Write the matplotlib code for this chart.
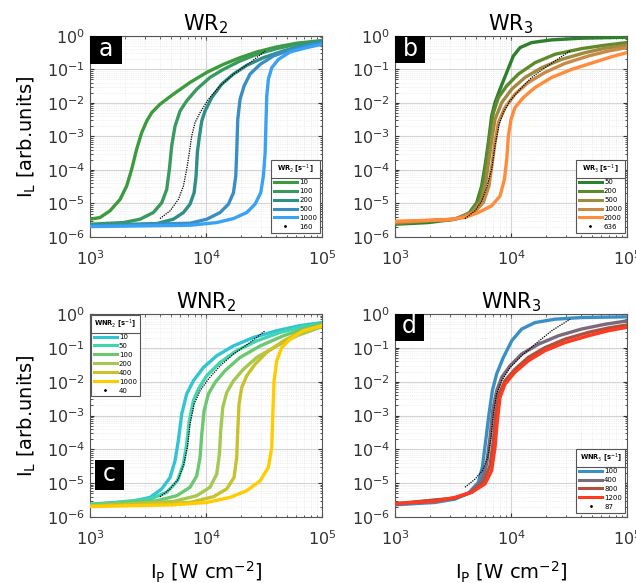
import matplotlib

matplotlib.use("Agg")
import matplotlib.pyplot as plt
from matplotlib.lines import Line2D
from matplotlib.patches import Rectangle
import numpy as np

# All curves stored as (log10 I_P, log10 I_L).

# ---- panel a : WR2 ----
a_labels = ["10", "100", "200", "500", "1000"]
a_colors = ["#3c9b3c", "#3a9a5e", "#2e8f86", "#3a8fc2", "#3aa2f5"]
a_x = [
    [3.00, 3.086, 3.172, 3.259, 3.316, 3.359, 3.402, 3.445, 3.489, 3.532, 3.603, 3.718, 3.862, 4.006, 4.149, 4.293, 4.437, 4.609, 4.782, 5.00],
    [3.00, 3.287, 3.431, 3.546, 3.618, 3.661, 3.684, 3.704, 3.733, 3.776, 3.833, 3.920, 4.034, 4.149, 4.293, 4.437, 4.609, 4.782, 5.00],
    [3.00, 3.575, 3.718, 3.805, 3.862, 3.897, 3.914, 3.925, 3.943, 3.963, 3.991, 4.049, 4.135, 4.236, 4.351, 4.494, 4.667, 4.839, 5.00],
    [3.00, 3.862, 4.006, 4.121, 4.193, 4.236, 4.256, 4.264, 4.273, 4.293, 4.328, 4.379, 4.466, 4.580, 4.724, 4.868, 5.00],
    [3.00, 3.862, 4.092, 4.236, 4.351, 4.422, 4.471, 4.494, 4.509, 4.517, 4.523, 4.537, 4.566, 4.624, 4.724, 4.868, 5.00],
]
a_y = [
    [-5.47, -5.42, -5.22, -4.88, -4.48, -3.98, -3.38, -2.89, -2.54, -2.29, -2.04, -1.74, -1.39, -1.09, -0.85, -0.65, -0.48, -0.33, -0.22, -0.14],
    [-5.62, -5.57, -5.47, -5.27, -4.98, -4.58, -3.98, -3.28, -2.69, -2.24, -1.94, -1.59, -1.24, -1.00, -0.75, -0.55, -0.38, -0.25, -0.15],
    [-5.65, -5.60, -5.47, -5.27, -5.02, -4.68, -4.18, -3.48, -2.99, -2.54, -2.24, -1.84, -1.44, -1.14, -0.88, -0.65, -0.45, -0.28, -0.17],
    [-5.67, -5.59, -5.47, -5.27, -5.02, -4.68, -4.18, -3.48, -2.49, -1.89, -1.49, -1.14, -0.85, -0.60, -0.42, -0.28, -0.20],
    [-5.69, -5.65, -5.57, -5.45, -5.27, -5.02, -4.68, -4.18, -3.48, -2.49, -1.79, -1.29, -0.95, -0.70, -0.48, -0.35, -0.25],
]
a_fit_label = "160"
a_fit_x = [3.603, 3.690, 3.761, 3.805, 3.833, 3.856, 3.876, 3.905, 3.948, 4.020, 4.121, 4.236, 4.379, 4.509]
a_fit_y = [-5.45, -5.22, -4.88, -4.48, -3.98, -3.48, -2.99, -2.59, -2.29, -1.89, -1.49, -1.14, -0.80, -0.45]

# ---- panel b : WR3 ----
b_labels = ["50", "200", "500", "1000", "2000"]
b_colors = ["#2e7f2e", "#5e8a2c", "#a08a40", "#c98a45", "#ff8c3a"]
b_x = [
    [3.00, 3.287, 3.517, 3.632, 3.704, 3.747, 3.776, 3.805, 3.833, 3.862, 3.905, 3.963, 4.020, 4.078, 4.178, 4.351, 4.609, 5.00],
    [3.00, 3.517, 3.647, 3.718, 3.761, 3.790, 3.819, 3.848, 3.891, 3.963, 4.063, 4.207, 4.379, 4.609, 4.810, 5.00],
    [3.00, 3.517, 3.661, 3.741, 3.782, 3.810, 3.839, 3.862, 3.920, 4.006, 4.121, 4.264, 4.437, 4.638, 4.810, 5.00],
    [3.00, 3.517, 3.675, 3.761, 3.810, 3.839, 3.862, 3.891, 3.948, 4.034, 4.149, 4.293, 4.466, 4.667, 4.839, 5.00],
    [3.00, 3.431, 3.603, 3.718, 3.833, 3.905, 3.943, 3.963, 3.977, 4.000, 4.034, 4.106, 4.207, 4.351, 4.523, 4.724, 4.868, 5.00],
]
b_y = [
    [-5.62, -5.57, -5.47, -5.32, -4.98, -4.48, -3.88, -3.18, -2.39, -1.99, -1.59, -1.09, -0.60, -0.35, -0.20, -0.12, -0.07, -0.04],
    [-5.60, -5.47, -5.27, -4.93, -4.38, -3.68, -2.89, -2.29, -1.84, -1.49, -1.14, -0.80, -0.55, -0.38, -0.28, -0.20],
    [-5.57, -5.47, -5.27, -4.93, -4.38, -3.68, -2.99, -2.49, -1.99, -1.59, -1.24, -0.95, -0.70, -0.50, -0.37, -0.28],
    [-5.55, -5.47, -5.29, -4.98, -4.48, -3.78, -3.18, -2.59, -2.14, -1.74, -1.39, -1.09, -0.82, -0.60, -0.45, -0.35],
    [-5.53, -5.49, -5.42, -5.27, -5.07, -4.78, -4.28, -3.68, -2.99, -2.49, -2.14, -1.84, -1.54, -1.24, -1.00, -0.78, -0.62, -0.50],
]
b_fit_label = "636"
b_fit_x = [3.603, 3.690, 3.747, 3.790, 3.833, 3.862, 3.897, 3.934, 3.991, 4.078, 4.178, 4.293, 4.408, 4.509]
b_fit_y = [-5.45, -5.22, -4.93, -4.53, -3.98, -3.28, -2.64, -2.29, -1.94, -1.59, -1.24, -0.95, -0.68, -0.45]

# ---- panel c : WNR2 ----
c_labels = ["10", "50", "100", "200", "400", "1000"]
c_colors = ["#30c4d4", "#40d4b0", "#6cc870", "#a4c850", "#c8c22a", "#ffcc00"]
c_x = [
    [3.00, 3.345, 3.517, 3.618, 3.690, 3.733, 3.761, 3.790, 3.833, 3.891, 3.977, 4.092, 4.236, 4.408, 4.609, 4.810, 5.00],
    [3.00, 3.517, 3.661, 3.753, 3.805, 3.833, 3.856, 3.891, 3.934, 4.006, 4.121, 4.264, 4.437, 4.638, 4.839, 5.00],
    [3.00, 3.575, 3.747, 3.862, 3.920, 3.948, 3.963, 3.983, 4.020, 4.078, 4.164, 4.293, 4.466, 4.667, 4.839, 5.00],
    [3.00, 3.718, 3.920, 4.034, 4.092, 4.115, 4.126, 4.144, 4.178, 4.236, 4.322, 4.437, 4.609, 4.782, 5.00],
    [3.00, 3.862, 4.063, 4.178, 4.241, 4.264, 4.273, 4.284, 4.307, 4.351, 4.422, 4.523, 4.667, 4.810, 5.00],
    [3.00, 3.718, 4.006, 4.207, 4.351, 4.466, 4.537, 4.566, 4.575, 4.586, 4.609, 4.652, 4.724, 4.839, 5.00],
]
c_y = [
    [-5.62, -5.55, -5.42, -5.17, -4.83, -4.33, -3.74, -2.96, -2.36, -1.97, -1.58, -1.23, -0.94, -0.69, -0.49, -0.34, -0.25],
    [-5.64, -5.47, -5.27, -4.93, -4.43, -3.84, -3.15, -2.56, -2.22, -1.82, -1.43, -1.08, -0.79, -0.54, -0.37, -0.28],
    [-5.65, -5.52, -5.37, -5.12, -4.78, -4.24, -3.55, -2.86, -2.36, -2.02, -1.67, -1.28, -0.94, -0.64, -0.44, -0.30],
    [-5.67, -5.54, -5.37, -5.12, -4.73, -4.14, -3.45, -2.76, -2.32, -1.97, -1.63, -1.28, -0.94, -0.64, -0.37],
    [-5.68, -5.57, -5.40, -5.17, -4.83, -4.24, -3.45, -2.66, -2.17, -1.82, -1.48, -1.13, -0.79, -0.54, -0.34],
    [-5.69, -5.64, -5.57, -5.42, -5.22, -4.93, -4.53, -3.94, -2.96, -1.97, -1.38, -0.99, -0.74, -0.49, -0.34],
]
c_fit_label = "40"
c_fit_x = [3.603, 3.690, 3.761, 3.805, 3.839, 3.862, 3.897, 3.948, 4.020, 4.121, 4.236, 4.379, 4.509]
c_fit_y = [-5.40, -5.17, -4.88, -4.48, -3.94, -3.25, -2.66, -2.27, -1.92, -1.53, -1.18, -0.84, -0.49]

# ---- panel d : WNR3 ----
d_labels = ["100", "400", "800", "1200"]
d_colors = ["#3a90c4", "#7a6a7a", "#b0503e", "#ff3a1e"]
d_x = [
    [3.00, 3.345, 3.517, 3.632, 3.718, 3.753, 3.782, 3.810, 3.839, 3.876, 3.934, 4.006, 4.092, 4.207, 4.379, 4.609, 5.00],
    [3.00, 3.517, 3.647, 3.747, 3.790, 3.819, 3.842, 3.876, 3.920, 3.991, 4.092, 4.236, 4.408, 4.609, 4.810, 5.00],
    [3.00, 3.517, 3.661, 3.761, 3.819, 3.848, 3.868, 3.897, 3.948, 4.034, 4.149, 4.293, 4.466, 4.667, 4.839, 5.00],
    [3.00, 3.345, 3.517, 3.661, 3.776, 3.833, 3.862, 3.882, 3.905, 3.948, 4.034, 4.149, 4.293, 4.466, 4.667, 4.839, 5.00],
]
d_y = [
    [-5.64, -5.57, -5.47, -5.30, -4.98, -4.53, -3.74, -2.96, -2.27, -1.77, -1.28, -0.79, -0.44, -0.25, -0.15, -0.10, -0.08],
    [-5.62, -5.45, -5.27, -4.93, -4.43, -3.65, -2.86, -2.27, -1.87, -1.53, -1.18, -0.89, -0.64, -0.44, -0.30, -0.20],
    [-5.61, -5.44, -5.27, -4.98, -4.48, -3.74, -2.96, -2.36, -1.97, -1.63, -1.28, -0.99, -0.74, -0.54, -0.41, -0.32],
    [-5.60, -5.54, -5.42, -5.27, -5.02, -4.63, -3.94, -3.15, -2.46, -2.07, -1.72, -1.38, -1.08, -0.84, -0.64, -0.49, -0.39],
]
d_fit_label = "87"
d_fit_x = [3.603, 3.690, 3.753, 3.799, 3.828, 3.848, 3.876, 3.920, 3.991, 4.092, 4.207, 4.351, 4.509]
d_fit_y = [-5.12, -4.88, -4.63, -4.24, -3.65, -2.96, -2.36, -1.97, -1.58, -1.23, -0.89, -0.49, -0.15]


def draw_panel(ax, title, tag, tag_box, xs, ys, labels, colors,
               fit_x, fit_y, fit_label, leg_title, leg_loc, leg_anchor):
    for lx, ly, c in zip(xs, ys, colors):
        ax.plot(10 ** np.array(lx), 10 ** np.array(ly), color=c, lw=2.4,
                solid_capstyle="round", solid_joinstyle="round", zorder=3)
    ax.plot(10 ** np.array(fit_x), 10 ** np.array(fit_y), color="black",
            lw=0.9, ls=(0, (1, 0.9)), zorder=4)
    ax.set_xscale("log")
    ax.set_yscale("log")
    ax.set_xlim(1e3, 1e5)
    ax.set_ylim(1e-6, 1e0)
    ax.set_yticks([10.0 ** k for k in range(-6, 1)])
    ax.set_xticks([1e3, 1e4, 1e5])
    ax.grid(True, which="major", color="#d4d4d4", lw=0.8)
    ax.grid(True, which="minor", color="#e2e2e2", lw=0.5, ls=":")
    ax.tick_params(which="both", direction="in", top=True, right=True,
                   labelsize=11.5, colors="#333333")
    ax.tick_params(axis="x", which="major", pad=9)
    ax.tick_params(which="major", length=3)
    ax.tick_params(which="minor", length=1.8)
    for sp in ax.spines.values():
        sp.set_color("#555555")
        sp.set_linewidth(0.8)
    ax.set_title(title, fontsize=15, pad=4)

    # black tag box with a white letter
    x0, y0, w, h = tag_box
    ax.add_patch(Rectangle((x0, y0), w, h, transform=ax.transAxes,
                           facecolor="black", edgecolor="none", zorder=6,
                           clip_on=False))
    ax.text(x0 + w / 2, y0 + h / 2 + 0.005, tag, transform=ax.transAxes,
            color="white", fontsize=17, ha="center", va="center", zorder=7)

    handles = [Line2D([], [], color=c, lw=2.2) for c in colors]
    handles.append(Line2D([], [], ls="none", marker=".", ms=2, color="black"))
    leg = ax.legend(handles, labels + [fit_label], title=leg_title,
                    loc=leg_loc, bbox_to_anchor=leg_anchor, fontsize=5,
                    title_fontproperties={"size": 4.8, "weight": "bold"},
                    handlelength=3.3, handletextpad=0.3, labelspacing=0.42,
                    borderpad=0.4, borderaxespad=0.0, fancybox=False,
                    framealpha=1, edgecolor="#555555")
    leg.get_frame().set_linewidth(0.8)
    leg.set_zorder(8)
    return leg


fig = plt.figure(figsize=(6.36, 5.83), dpi=100)
ax_a = fig.add_axes([0.1415, 0.5935, 0.365, 0.345])
ax_b = fig.add_axes([0.621, 0.5935, 0.365, 0.345])
ax_c = fig.add_axes([0.1415, 0.1132, 0.365, 0.348])
ax_d = fig.add_axes([0.621, 0.1132, 0.365, 0.348])

legends = [
    draw_panel(ax_a, "WR$_2$", "a", (0.0, 0.859, 0.137, 0.141), a_x, a_y,
               a_labels, a_colors, a_fit_x, a_fit_y, a_fit_label,
               "WR$_2$ [s$^{-1}$]", "lower right", (0.99, 0.022)),
    draw_panel(ax_b, "WR$_3$", "b", (0.0, 0.864, 0.13, 0.136), b_x, b_y,
               b_labels, b_colors, b_fit_x, b_fit_y, b_fit_label,
               "WR$_3$ [s$^{-1}$]", "lower right", (0.99, 0.022)),
    draw_panel(ax_c, "WNR$_2$", "c", (0.022, 0.133, 0.125, 0.148), c_x, c_y,
               c_labels, c_colors, c_fit_x, c_fit_y, c_fit_label,
               "WNR$_2$ [s$^{-1}$]", "upper left", (0.005, 0.995)),
    draw_panel(ax_d, "WNR$_3$", "d", (0.0, 0.868, 0.126, 0.132), d_x, d_y,
               d_labels, d_colors, d_fit_x, d_fit_y, d_fit_label,
               "WNR$_3$ [s$^{-1}$]", "lower right", (0.99, 0.022)),
]

for ax in (ax_a, ax_c):
    ax.set_ylabel("I$_\\mathrm{L}$ [arb.units]", fontsize=14, labelpad=6)
for ax in (ax_c, ax_d):
    ax.set_xlabel("I$_\\mathrm{P}$ [W cm$^{-2}$]", fontsize=14, labelpad=8)

# separator line under each legend title (MATLAB style legend header)
fig.canvas.draw()
inv = fig.transFigure.inverted()
for leg in legends:
    frame = leg.get_frame().get_window_extent()
    tbox = leg.get_title().get_window_extent()
    y_sep = tbox.y0 - 2
    (fx0, fy), (fx1, _) = inv.transform([(frame.x0, y_sep), (frame.x1, y_sep)])
    fig.add_artist(Line2D([fx0, fx1], [fy, fy], color="#555555", lw=0.8,
                          zorder=10))

fig.savefig("out.png", dpi=100)
plt.close(fig)
